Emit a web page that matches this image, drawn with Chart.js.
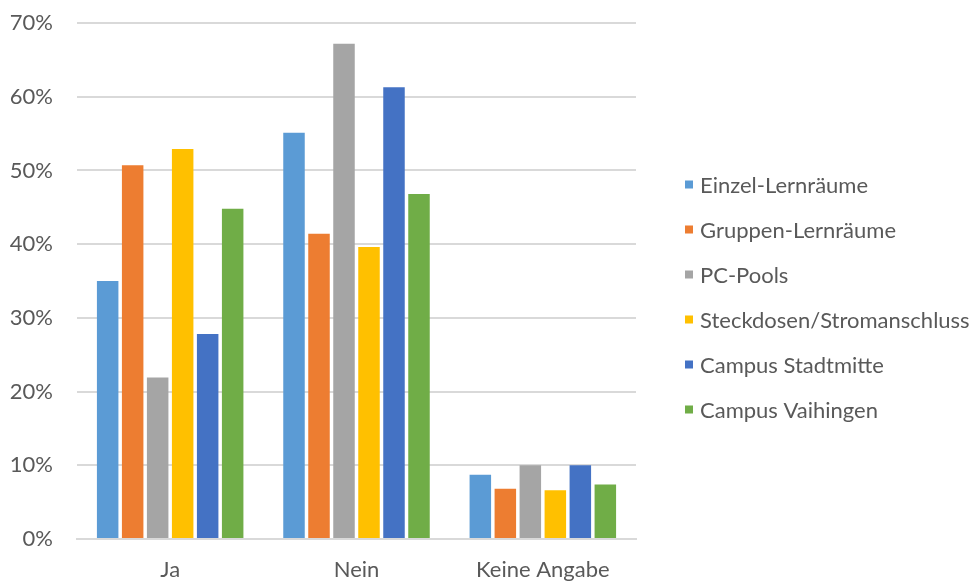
<!DOCTYPE html>
<html>
<head>
<meta charset="utf-8">
<script src="https://cdn.jsdelivr.net/npm/chart.js@4"></script>
<style>
  html, body { margin: 0; padding: 0; background: #ffffff; }
  #wrap { width: 974px; height: 581px; }
</style>
</head>
<body>
<div id="wrap"><canvas id="chart"></canvas></div>
<script>
// Answer categories on the x axis
const categories = ['Ja', 'Nein', 'Keine Angabe'];

// Share of answers per room / location type (percent)
const einzelLernraeume   = [35.0, 55.1, 8.7];
const gruppenLernraeume  = [50.7, 41.4, 6.8];
const pcPools            = [21.9, 67.2, 10.0];
const steckdosen         = [52.9, 39.6, 6.6];
const campusStadtmitte   = [27.8, 61.3, 10.0];
const campusVaihingen    = [44.8, 46.8, 7.4];

const seriesNames = ['Einzel-Lernräume', 'Gruppen-Lernräume', 'PC-Pools',
                     'Steckdosen/Stromanschluss', 'Campus Stadtmitte', 'Campus Vaihingen'];
const seriesValues = [einzelLernraeume, gruppenLernraeume, pcPools,
                      steckdosen, campusStadtmitte, campusVaihingen];
const seriesColors = ['#5B9BD5', '#ED7D31', '#A5A5A5', '#FFC000', '#4472C4', '#70AD47'];

// Y axis ticks (percent)
const yTicks = [0, 10, 20, 30, 40, 50, 60, 70];

const FONT = 'Lato, Calibri, "Liberation Sans", sans-serif';
const FONT_SIZE = 22;
const TEXT = '#595959';

// Legend drawn as a single column to the right of the plot area
const sideLegend = {
  id: 'sideLegend',
  afterDraw(chart) {
    const ctx = chart.ctx;
    const area = chart.chartArea;
    const x = area.right + 49;
    const step = 45;
    const n = chart.data.datasets.length;
    const y0 = (area.top + area.bottom) / 2 - step * (n - 1) / 2 + 16;
    ctx.save();
    ctx.font = FONT_SIZE + 'px ' + FONT;
    ctx.textBaseline = 'middle';
    ctx.textAlign = 'left';
    chart.data.datasets.forEach((ds, i) => {
      const y = y0 + i * step;
      ctx.fillStyle = ds.backgroundColor;
      ctx.fillRect(x, y - 4, 8, 8);
      ctx.fillStyle = TEXT;
      ctx.fillText(ds.label, x + 15, y + 1);
    });
    ctx.restore();
  }
};

function draw() {
  new Chart(document.getElementById('chart'), {
    type: 'bar',
    data: {
      labels: categories,
      datasets: seriesNames.map((name, i) => ({
        label: name,
        data: seriesValues[i],
        backgroundColor: seriesColors[i],
        borderWidth: 0,
        barPercentage: 0.86,
        categoryPercentage: 0.805
      }))
    },
    options: {
      responsive: true,
      maintainAspectRatio: false,
      animation: false,
      layout: { padding: { top: 0, left: 0, right: 338, bottom: 0 } },
      plugins: {
        legend: { display: false },
        tooltip: { enabled: false }
      },
      scales: {
        x: {
          grid: { display: false, drawTicks: false },
          border: { display: true, color: '#d9d9d9', width: 2 },
          ticks: { color: TEXT, font: { family: FONT, size: FONT_SIZE }, padding: 18 },
          afterFit(scale) { scale.height = 42; }
        },
        y: {
          min: yTicks[0],
          max: yTicks[yTicks.length - 1],
          grid: { color: '#d9d9d9', lineWidth: 2, drawTicks: false },
          border: { display: false },
          afterBuildTicks(scale) { scale.ticks = yTicks.map(v => ({ value: v })); },
          afterFit(scale) {
            scale.width = 77;
            scale.paddingTop = 23;
          },
          ticks: {
            color: TEXT,
            padding: 24,
            font: { family: FONT, size: FONT_SIZE },
            callback: v => v + '%'
          }
        }
      }
    },
    plugins: [sideLegend]
  });
}

document.fonts.load(FONT_SIZE + 'px Lato').then(draw, draw);
</script>
</body>
</html>
